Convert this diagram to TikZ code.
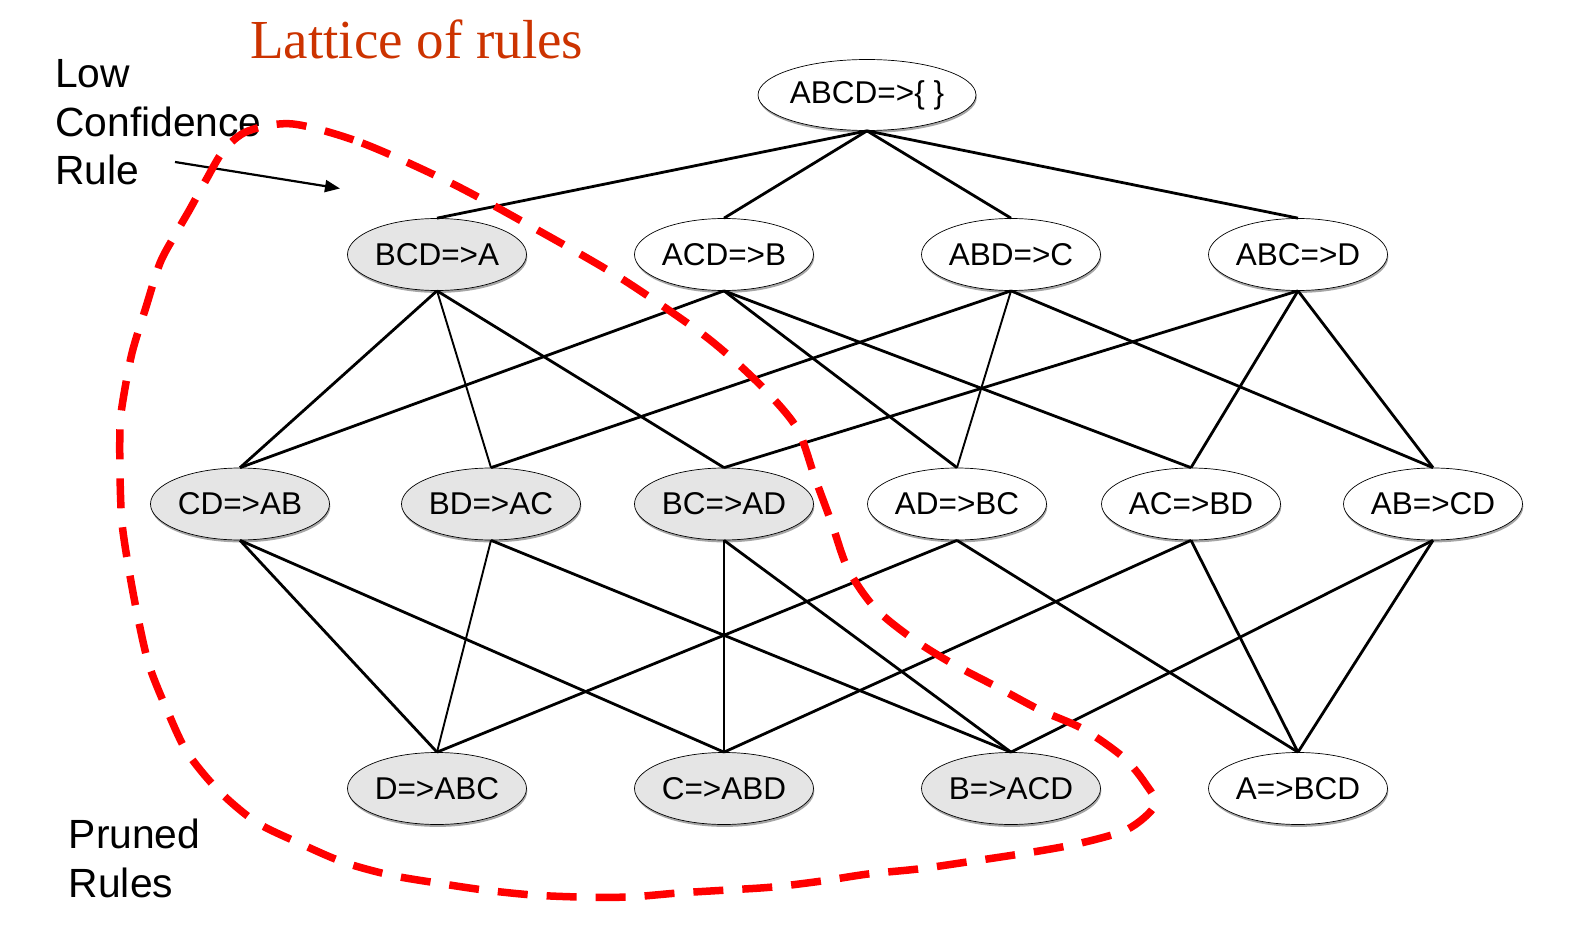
\documentclass[tikz,border=0pt]{standalone}
\usepackage{fontspec}
\setmainfont{Liberation Sans}
\newfontfamily\titlefont{Liberation Serif}
\usetikzlibrary{shapes.geometric,shadows,arrows.meta}
\definecolor{titlered}{RGB}{204,51,0}
\begin{document}
\begin{tikzpicture}[x=1pt,y=-1pt,
  rule/.style={ellipse, draw=black, line width=0.7pt, minimum width=179pt, minimum height=72pt,
    inner sep=0pt, font=\fontsize{31.5}{36}\selectfont, fill=white,
    drop shadow={shadow xshift=0.8pt, shadow yshift=-2.4pt, fill=gray!70, opacity=1}},
  pruned/.style={rule, fill=gray!20},
  edge/.style={line width=2.8pt},
  thinedge/.style={line width=1.9pt},
  hair/.style={line width=1.2pt},
  prune/.style={red, line width=7.5pt, dash pattern=on 30pt off 19pt},
  label/.style={anchor=base west, inner sep=0pt, align=left, font=\fontsize{40.8}{48.5}\selectfont}
]
\useasboundingbox (0,0) rectangle (1583,952);

% nodes
\node[rule, minimum width=215pt, minimum height=71pt] (top) at (867,95) {ABCD=>\{ \}};

\node[pruned] (bcd) at (437,254.5) {BCD=>A};
\node[rule]   (acd) at (724,254.5) {ACD=>B};
\node[rule]   (abd) at (1011,254.5) {ABD=>C};
\node[rule]   (abc) at (1298,254.5) {ABC=>D};

\node[pruned] (cd) at (240,504) {CD=>AB};
\node[pruned] (bd) at (491,504) {BD=>AC};
\node[pruned] (bc) at (724,504) {BC=>AD};
\node[rule]   (ad) at (957,504) {AD=>BC};
\node[rule]   (ac) at (1191,504) {AC=>BD};
\node[rule]   (ab) at (1433,504) {AB=>CD};

\node[pruned] (d) at (437,788.5) {D=>ABC};
\node[pruned] (c) at (724,788.5) {C=>ABD};
\node[pruned] (b) at (1011,788.5) {B=>ACD};
\node[rule]   (a) at (1298,788.5) {A=>BCD};

% edges level 1
\foreach \n in {bcd,acd,abd,abc} \draw[edge] (top.south) -- (\n.north);

% edges level 2
\draw[edge] (bcd.south) -- (cd.north);
\draw[thinedge] (bcd.south) -- (bd.north);
\draw[edge] (bcd.south) -- (bc.north);
\draw[edge] (acd.south) -- (cd.north);
\draw[edge] (acd.south) -- (ad.north);
\draw[edge] (acd.south) -- (ac.north);
\draw[edge] (abd.south) -- (bd.north);
\draw[thinedge] (abd.south) -- (ad.north);
\draw[edge] (abd.south) -- (ab.north);
\draw[edge] (abc.south) -- (bc.north);
\draw[edge] (abc.south) -- (ac.north);
\draw[edge] (abc.south) -- (ab.north);

% edges level 3
\draw[edge] (cd.south) -- (d.north);
\draw[edge] (cd.south) -- (c.north);
\draw[thinedge] (bd.south) -- (d.north);
\draw[edge] (bd.south) -- (b.north);
\draw[hair] (bc.south) -- (c.north);
\draw[edge] (bc.south) -- (b.north);
\draw[edge] (ad.south) -- (d.north);
\draw[edge] (ad.south) -- (a.north);
\draw[edge] (ac.south) -- (c.north);
\draw[edge] (ac.south) -- (a.north);
\draw[edge] (ab.south) -- (b.north);
\draw[edge] (ab.south) -- (a.north);

% texts
\node[anchor=base west, inner sep=0pt, font=\titlefont\fontsize{55}{60}\selectfont, text=titlered]
  (title) at (250,58.5) {Lattice of rules};
\node[label] (low) at (55,185) {Low\\Confidence\\Rule};
\node[label] (pr) at (68.6,897) {Pruned\\Rules};

% arrow
\coordinate (arrS) at (175,162);
\coordinate (arrE) at (340,188.5);
\draw[line width=2.2pt, -{Triangle[length=15pt,width=12pt]}] (arrS) -- (arrE);

% pruned region
\draw[prune] plot[smooth cycle, tension=0.5] coordinates {
 (293,124) (362,143) (451,183) (534,228) (619,277) (697,330) (736,362) (770,395) (798,430)
 (815,478) (832,524) (848,569) (875,608) (913,639) (953,664) (997,687) (1040,710) (1083,729)
 (1123,757) (1145,783) (1155,805) (1128,829) (1081,843) (1033,852) (967,862) (918,869) (868,874)
 (822,881) (773,887) (727,890) (678,893) (629,897) (580,897) (533,895) (484,890) (437,883)
 (390,875) (343,862) (299,843) (256,822) (218,790) (187,752) (167,710) (149,665) (138,618)
 (129,570) (122,523) (120,475) (120,427) (123,400) (132,353) (146,307) (160,263) (175,235)
 (190,209) (206,180) (224,150) (248,131)
};
\end{tikzpicture}
\end{document}
